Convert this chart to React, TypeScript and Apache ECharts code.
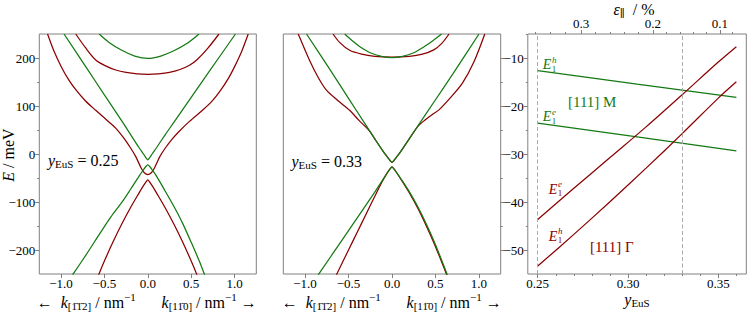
import { useEffect, useRef } from 'react';
import * as echarts from 'echarts';

type Pt = [number, number];

const SERIF = 'Liberation Serif, Times New Roman, DejaVu Serif, serif';
const RED = '#8b0000';
const GREEN = '#137a13';
const FRAME = '#808080';
const DASH = '#aaaaaa';

// ---------- Panel A: y_EuS = 0.25 (k in nm^-1, E in meV) ----------
const aGreenBand: Pt[] = [[-0.56, 250], [-0.45, 233], [-0.3, 216], [-0.15, 204], [0, 199], [0.15, 204], [0.3, 215], [0.45, 230], [0.59, 250]];
const aRedBand: Pt[] = [[-0.83, 250], [-0.72, 222], [-0.6, 196], [-0.48, 183], [-0.37, 175], [-0.25, 170], [-0.12, 167], [0, 166], [0.12, 167], [0.25, 170], [0.37, 176], [0.48, 185], [0.57, 197], [0.69, 220], [0.82, 250]];
const aGreenUpper: Pt[] = [[-0.965, 250], [-0.7, 178], [-0.5, 123], [-0.3, 69], [-0.2, 41], [-0.1, 13], [-0.05, 0], [-0.02, -8], [0, -12], [0.02, -8], [0.05, 0], [0.1, 13], [0.2, 40], [0.3, 66], [0.5, 118], [0.7, 170], [1.01, 250]];
const aRedUpper: Pt[] = [[-1.155, 250], [-1.08, 214], [-1.0, 183], [-0.92, 157], [-0.83, 134], [-0.72, 111], [-0.6, 91], [-0.48, 72], [-0.37, 54], [-0.28, 34], [-0.2, 13], [-0.14, -5], [-0.077, -29], [-0.04, -39], [0, -43], [0.04, -39], [0.077, -29], [0.14, -5], [0.2, 12], [0.28, 31], [0.36, 47], [0.48, 68], [0.63, 91], [0.74, 110], [0.84, 133], [0.93, 158], [1.0, 182], [1.08, 213], [1.157, 250]];
const aGreenLower: Pt[] = [[-0.867, -252], [-0.7, -207], [-0.55, -165], [-0.425, -131], [-0.3, -101], [-0.2, -74], [-0.1, -46], [-0.05, -33], [-0.02, -25.5], [0, -22.5], [0.02, -25.5], [0.05, -33], [0.1, -46], [0.2, -77], [0.3, -109], [0.4, -144], [0.5, -184], [0.6, -226], [0.655, -252]];
const aRedLower: Pt[] = [[-0.567, -252], [-0.5, -223], [-0.4, -183], [-0.3, -146], [-0.2, -112], [-0.1, -81], [-0.05, -66], [-0.02, -58], [0, -54], [0.02, -58], [0.05, -66], [0.1, -81], [0.2, -112], [0.3, -146], [0.4, -183], [0.5, -223], [0.567, -252]];

// ---------- Panel B: y_EuS = 0.33 ----------
const bGreenBand: Pt[] = [[-0.545, 250], [-0.45, 235], [-0.373, 224], [-0.25, 211], [-0.12, 203.5], [0, 201], [0.12, 203.5], [0.25, 211], [0.373, 224], [0.47, 236], [0.57, 250]];
const bRedBand: Pt[] = [[-0.678, 250], [-0.6, 232], [-0.487, 216], [-0.35, 208], [-0.2, 203.5], [0, 202], [0.2, 203.5], [0.35, 208], [0.48, 217], [0.57, 230], [0.656, 250]];
const bGreenUpper: Pt[] = [[-0.983, 250], [-0.7, 172], [-0.5, 116], [-0.3, 60], [-0.2, 32], [-0.1, 5], [-0.05, -7], [-0.02, -14], [0, -17.5], [0.02, -14], [0.05, -7], [0.1, 5], [0.2, 32], [0.3, 59], [0.5, 113], [0.7, 167], [1.0, 250]];
const bRedUpper: Pt[] = [[-1.078, 250], [-0.95, 196], [-0.85, 160], [-0.754, 133], [-0.62, 111], [-0.487, 91], [-0.38, 70], [-0.3, 56], [-0.25, 46], [-0.2, 32], [-0.1, 5], [-0.05, -7], [-0.02, -14], [0, -17.5], [0.02, -14], [0.05, -7], [0.1, 5], [0.2, 32], [0.3, 58], [0.38, 71], [0.46, 82], [0.54, 92], [0.67, 117], [0.808, 147], [0.94, 191], [1.067, 250]];
const bGreenLower: Pt[] = [[-0.849, -252], [-0.6, -186], [-0.4, -133], [-0.2, -80], [-0.1, -52], [-0.05, -38], [-0.02, -30.5], [0, -27], [0.02, -30.5], [0.05, -38], [0.1, -51], [0.2, -79], [0.3, -111], [0.4, -148], [0.5, -189], [0.637, -252]];
const bRedLower: Pt[] = [[-0.64, -252], [-0.5, -200], [-0.4, -163], [-0.3, -126], [-0.2, -89], [-0.12, -60], [-0.06, -41], [-0.02, -30.5], [0, -27], [0.02, -30.5], [0.05, -38], [0.1, -52], [0.2, -81], [0.3, -114], [0.4, -152], [0.5, -193], [0.63, -252]];

// ---------- Panel C: band-edge energies vs y_EuS ----------
const gammaYEuS = [0.25, 0.27, 0.29, 0.31, 0.33, 0.35, 0.36];
const gammaE1e = [-43.5, -37.0, -30.6, -24.2, -17.5, -10.7, -7.5];
const gammaE1h = [-53.2, -46.6, -39.8, -32.8, -25.6, -18.2, -14.8];
const mYEuS = [0.25, 0.305, 0.36];
const mE1h = [-12.5, -15.3, -18.05];
const mE1e = [-23.4, -26.3, -29.2];
const markerYEuS = [0.25, 0.33];

// ---------- Ticks ----------
const kTicks = [-1, -0.5, 0, 0.5, 1];
const eTicks = [-200, -100, 0, 100, 200];
const eMinorTicks = [-150, -50, 50, 150];
const yEuSTicks = [0.25, 0.3, 0.35];
const yEuSMinorTicks = [0.26, 0.27, 0.28, 0.29, 0.31, 0.32, 0.33, 0.34, 0.36];
const gapTicks = [-50, -40, -30, -20, -10];
const gapMinorTicks = [-45, -35, -25, -15, -5];
const strainLabels = ['0.3', '0.2', '0.1'];
const strainTickPos = [0.274, 0.3138, 0.3509];
const strainMinorPos = [0.2484, 0.2569, 0.2655, 0.282, 0.2899, 0.2979, 0.3059, 0.3213, 0.3287, 0.3361, 0.3435, 0.3579];

const fmtSigned = (v: number, d: number) => {
  const s = Math.abs(v).toFixed(d);
  return v < -1e-9 ? '\u2212' + s : s;
};

const tickLine = { color: FRAME, width: 1 };
const labelStyle = { fontFamily: SERIF, fontSize: 13, color: '#000' };

function axis(gridIndex: number, position: string, min: number, max: number, ticks: number[], len: number, label: any) {
  return {
    type: 'value', gridIndex, position, min, max,
    axisLine: { show: false, onZero: false },
    splitLine: { show: false },
    axisTick: { show: true, inside: false, length: len, customValues: ticks, lineStyle: tickLine },
    axisLabel: label ? { show: true, customValues: ticks, ...labelStyle, ...label } : { show: false },
  };
}

function line(data: Pt[], color: string, xi: number, yi: number, extra: any = {}) {
  return {
    type: 'line', data, xAxisIndex: xi, yAxisIndex: yi,
    symbol: 'none', showSymbol: false, smooth: 0.3, clip: true, silent: true,
    lineStyle: { color, width: 1.25 },
    ...extra,
  };
}

const tok = (size: number, extra: any = {}) => ({ fontFamily: SERIF, fontSize: size, fill: '#000', ...extra });

function rich(text: string, x: number, y: number, align: string, size: number, color = '#000', rotation = 0) {
  return {
    type: 'text', x, y, rotation, silent: true,
    style: {
      text, fontFamily: SERIF, fontSize: size, fill: color, align, verticalAlign: 'middle',
      rich: {
        n: tok(size, { fill: color }),
        i: tok(size, { fill: color, fontStyle: 'italic' }),
        s: tok(Math.round(size * 0.7), { fill: color, padding: [7, 0, 0, 0] }),
        p: tok(Math.round(size * 0.7), { fill: color, padding: [0, 0, 10, 0] }),
      },
    },
  };
}

function plain(text: string, x: number, y: number, size: number, color: string, italic = false, align = 'left') {
  return {
    type: 'text', x, y, silent: true,
    style: { text, fontFamily: SERIF, fontSize: size, fill: color, fontStyle: italic ? 'italic' : 'normal', align, verticalAlign: 'middle' },
  };
}

function bandLabel(x: number, y: number, sup: string, color: string) {
  return [
    plain('E', x, y, 14, color, true),
    plain('1', x + 9, y + 4, 9, color),
    plain(sup, x + 9.3, y - 5, 9, color, true),
  ];
}

const kLeft = '{n|\u2190  }{i|k}{s|[1\u03041\u03042]}{n| / nm}{p|\u22121}';
const kRight = '{i|k}{s|[11\u03040]}{n| / nm}{p|\u22121}{n| \u2192}';

export default function App() {
  const ref = useRef<HTMLDivElement>(null);
  useEffect(() => {
    const chart = echarts.init(ref.current!, null, { renderer: 'svg' });
    const grid = (left: number, width: number) => ({
      left, top: 34, width, height: 240, show: true, borderColor: FRAME, borderWidth: 1,
      backgroundColor: 'transparent', containLabel: false, outerBoundsMode: 'none',
    });
    const kFmt = (v: number) => fmtSigned(v, 1);
    const option: any = {
      animation: false,
      backgroundColor: '#ffffff',
      grid: [grid(39.3, 217), grid(283.3, 217.4), grid(527.8, 218.5)],
      xAxis: [
        axis(0, 'bottom', -1.25, 1.25, kTicks, 4, { formatter: kFmt, margin: 3 }),
        axis(1, 'bottom', -1.25, 1.25, kTicks, 4, { formatter: kFmt, margin: 3 }),
        axis(2, 'bottom', 0.2445, 0.3655, yEuSTicks, 4, { formatter: (v: number) => v.toFixed(2), margin: 3 }),
        axis(2, 'bottom', 0.2445, 0.3655, yEuSMinorTicks, 2, null),
        axis(2, 'top', 0.2445, 0.3655, strainTickPos, 4, {
          formatter: (v: number) => {
            const i = strainTickPos.findIndex((p) => Math.abs(p - v) < 1e-6);
            return i >= 0 ? strainLabels[i] : '';
          },
          margin: 4,
        }),
        axis(2, 'top', 0.2445, 0.3655, strainMinorPos, 2, null),
      ],
      yAxis: [
        axis(0, 'left', -250, 250, eTicks, 4, { formatter: (v: number) => fmtSigned(v, 0), margin: 4 }),
        axis(0, 'left', -250, 250, eMinorTicks, 2, null),
        axis(1, 'right', -250, 250, eTicks, 4, null),
        axis(1, 'right', -250, 250, eMinorTicks, 2, null),
        axis(2, 'left', -54.85, -4.85, gapTicks, 4, { formatter: (v: number) => fmtSigned(v, 0), margin: 4 }),
        axis(2, 'left', -54.85, -4.85, gapMinorTicks, 2, null),
      ],
      series: [
        line(aGreenBand, GREEN, 0, 0),
        line(aRedBand, RED, 0, 0),
        line(aGreenUpper, GREEN, 0, 0),
        line(aRedUpper, RED, 0, 0),
        line(aGreenLower, GREEN, 0, 0),
        line(aRedLower, RED, 0, 0),
        line(bRedBand, RED, 1, 2),
        line(bGreenBand, GREEN, 1, 2),
        line(bRedUpper, RED, 1, 2),
        line(bGreenUpper, GREEN, 1, 2),
        line(bRedLower, RED, 1, 2),
        line(bGreenLower, GREEN, 1, 2),
        line(mYEuS.map((x, i) => [x, mE1h[i]] as Pt), GREEN, 2, 4, {
          smooth: false,
          markLine: {
            silent: true, symbol: ['none', 'none'], label: { show: false },
            lineStyle: { color: DASH, type: [4, 2.5], width: 1 },
            data: markerYEuS.map((x) => ({ xAxis: x })),
          },
        }),
        line(mYEuS.map((x, i) => [x, mE1e[i]] as Pt), GREEN, 2, 4, { smooth: false }),
        line(gammaYEuS.map((x, i) => [x, gammaE1e[i]] as Pt), RED, 2, 4),
        line(gammaYEuS.map((x, i) => [x, gammaE1h[i]] as Pt), RED, 2, 4),
      ],
      graphic: {
        elements: [
          rich('{i|E}{n| / meV}', 8, 155, 'center', 16, '#000', Math.PI / 2),
          rich(kLeft, 36.7, 302, 'left', 16),
          rich(kRight, 256.7, 302, 'right', 16),
          rich(kLeft, 281.7, 302, 'left', 16),
          rich(kRight, 501.7, 302, 'right', 16),
          rich('{i|y}{s|EuS}{n| = 0.25}', 48, 160.5, 'left', 16),
          rich('{i|y}{s|EuS}{n| = 0.33}', 291.5, 161, 'left', 16),
          rich('{i|y}{s|EuS}', 637, 299, 'center', 16),
          rich('{i|\u03b5}{s|\u2225}{n|  / %}', 634, 9.5, 'center', 16),
          ...bandLabel(542.7, 64.5, 'h', GREEN),
          ...bandLabel(542.7, 116.8, 'e', GREEN),
          ...bandLabel(548.7, 189, 'e', RED),
          ...bandLabel(548.7, 236, 'h', RED),
          plain('[111] M', 592.2, 102.3, 15, GREEN, false, 'center'),
          plain('[111] \u0393', 611.8, 246.7, 15, RED, false, 'center'),
        ],
      },
    };
    chart.setOption(option);
    return () => chart.dispose();
  }, []);
  return <div ref={ref} style={{ position: 'absolute', left: 0, top: 0, width: 753, height: 317, background: '#fff' }} />;
}
